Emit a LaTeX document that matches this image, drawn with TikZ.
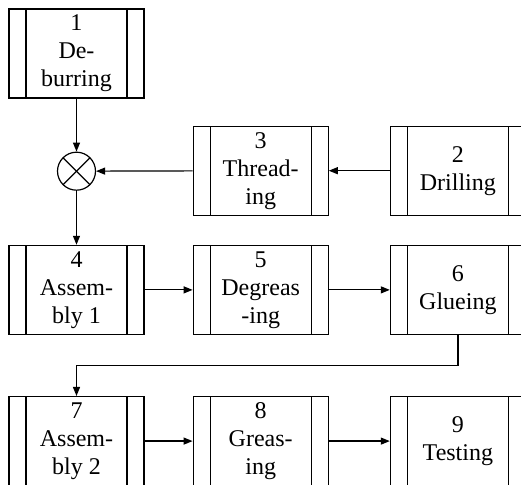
\documentclass[tikz,border=0pt]{standalone}
\usepackage{fontspec}
\setmainfont{Liberation Serif}
\usepackage{tikz}
\usetikzlibrary{arrows.meta,positioning}
\tikzset{
  proc/.style={draw, line width=0.6pt, minimum width=67.5pt, minimum height=44.5pt, inner sep=1pt, align=center,
    font=\fontsize{12pt}{14pt}\selectfont,
    path picture={\draw[line width=0.6pt] ([xshift=8.5pt]path picture bounding box.north west) -- ([xshift=8.5pt]path picture bounding box.south west);
      \draw[line width=0.6pt] ([xshift=-8.5pt]path picture bounding box.north east) -- ([xshift=-8.5pt]path picture bounding box.south east);}},
  merge/.style={draw, circle, line width=0.6pt, minimum size=19pt, inner sep=0pt,
    path picture={\draw[line width=0.6pt] (path picture bounding box.north west) -- (path picture bounding box.south east);
      \draw[line width=0.6pt] (path picture bounding box.north east) -- (path picture bounding box.south west);}},
  flow/.style={draw, line width=0.6pt, -{Triangle[length=4.5pt, width=3.5pt]}}
}
\begin{document}
\begin{tikzpicture}
\useasboundingbox (0,0) rectangle (260.5pt,-242.5pt);
\node[proc] (n1) at (38.25pt,-26.75pt) {1\\De-\\burring};
\node[merge, below=26.5pt of n1] (mx) {};
\node[proc, below=27pt of mx] (n4) {4\\Assem-\\bly 1};
\node[proc, right=24pt of n4] (n5) {5\\Degreas\\-ing};
\node[proc, right=30.5pt of n5] (n6) {6\\Glueing};
\node[proc, above=14.5pt of n5] (n3) {3\\Thread-\\ing};
\node[proc, above=14.5pt of n6] (n2) {2\\Drilling};
\node[proc, below=30.5pt of n4] (n7) {7\\Assem-\\bly 2};
\node[proc, right=24pt of n7] (n8) {8\\Greas-\\ing};
\node[proc, right=30.5pt of n8] (n9) {9\\Testing};
% flow of parts
\draw[flow] (n1) -- (mx);
\draw[flow] (n2) -- (n3);
\draw[flow] (n3) -- (mx);
\draw[flow] (mx) -- (n4);
\draw[flow] (n4) -- (n5);
\draw[flow] (n5) -- (n6);
\draw[flow] (n6.south) -- ++(0,-15.25pt) -| (n7.north);
\draw[flow] (n7) -- (n8);
\draw[flow] (n8) -- (n9);
\end{tikzpicture}
\end{document}
